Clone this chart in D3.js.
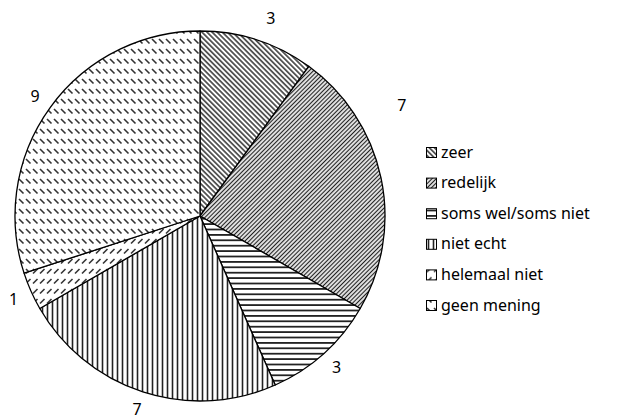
<!doctype html>
<html lang="nl">
<head>
  <meta charset="utf-8">
  <title>Pie</title>
  <style>
    body { margin: 0; background: #fff; }
    svg { display: block; }
    text {
      font-family: "Noto Sans", "Open Sans", sans-serif;
      font-size: 16px;
      fill: #000;
    }
    .slice { stroke: #000; stroke-width: 1.3; stroke-linejoin: round; }
    .swatch { stroke: #000; stroke-width: 1; }
  </style>
</head>
<body>
  <div id="chart"></div>
  <script src="https://cdn.jsdelivr.net/npm/d3@7"></script>
  <script>
  var categories = ["zeer", "redelijk", "soms wel/soms niet", "niet echt", "helemaal niet", "geen mening"];
  var values = [3, 7, 3, 7, 1, 9];
  var patternIds = ["p-down", "p-up", "p-horiz", "p-vert", "p-dash-up", "p-dash-down"];

  (function() {
    var width = 619, height = 419;
    var cx = 200, cy = 216, radius = 185;

    var svg = d3.select("#chart").append("svg")
        .attr("width", width)
        .attr("height", height);

    var defs = svg.append("defs");

    // line patterns, drawn as horizontal lines and rotated
    function linePattern(id, gap, angle, sw) {
      var p = defs.append("pattern")
          .attr("id", id)
          .attr("patternUnits", "userSpaceOnUse")
          .attr("width", 20).attr("height", gap)
          .attr("patternTransform", "rotate(" + angle + ")");
      p.append("rect").attr("width", 20).attr("height", gap).attr("fill", "#fff");
      p.append("line")
          .attr("x1", 0).attr("x2", 20)
          .attr("y1", gap / 2).attr("y2", gap / 2)
          .attr("stroke", "#222").attr("stroke-width", sw);
    }
    linePattern("p-down", 3.6, 45, 1.4);
    linePattern("p-up", 3.0, -45, 1.3);
    linePattern("p-horiz", 5.4, 0, 1.8);
    linePattern("p-vert", 5.0, 90, 1.6);

    // short dashed diagonals in rows
    function dashPattern(id, dir) {
      var w = 7, h = 10;
      var p = defs.append("pattern")
          .attr("id", id)
          .attr("patternUnits", "userSpaceOnUse")
          .attr("width", w).attr("height", h);
      p.append("rect").attr("width", w).attr("height", h).attr("fill", "#fff");
      p.append("line")
          .attr("x1", 1).attr("x2", 5.5)
          .attr("y1", dir > 0 ? 7.5 : 3).attr("y2", dir > 0 ? 3 : 7.5)
          .attr("stroke", "#333").attr("stroke-width", 1.6);
    }
    dashPattern("p-dash-up", 1);
    dashPattern("p-dash-down", -1);

    var pie = d3.pie().sort(null).value(function(d) { return d; });
    var arcs = pie(values);
    var arc = d3.arc().innerRadius(0).outerRadius(radius);

    var g = svg.append("g").attr("transform", "translate(" + cx + "," + cy + ")");

    g.selectAll("path.slice")
      .data(arcs)
      .enter().append("path")
        .attr("class", "slice")
        .attr("d", arc)
        .attr("fill", function(d, i) { return "url(#" + patternIds[i] + ")"; });

    // value labels just outside the rim
    var labelR = 204;
    g.selectAll("text.val")
      .data(arcs)
      .enter().append("text")
        .attr("class", "val")
        .attr("text-anchor", "middle")
        .attr("dy", "0.35em")
        .each(function(d, i) {
          var a = (d.startAngle + d.endAngle) / 2;
          var r = labelR;
          // keep the label clear of the legend
          if (i === 1) { a -= 0.29; r = 230; }
          if (i === 0) { a += 0.03; r = 210; }
          d3.select(this)
            .attr("x", r * Math.sin(a))
            .attr("y", Math.min(-r * Math.cos(a), 193));
        })
        .text(function(d) { return d.data; });

    // legend
    var ly = d3.scalePoint().domain(categories).range([152, 305]);
    var legend = svg.append("g");
    var item = legend.selectAll("g")
      .data(categories)
      .enter().append("g")
        .attr("transform", function(d) { return "translate(426," + ly(d) + ")"; });

    item.append("rect")
        .attr("class", "swatch")
        .attr("x", 0.5).attr("y", -4.5)
        .attr("width", 10).attr("height", 10)
        .attr("fill", function(d, i) { return "url(#" + patternIds[i] + ")"; });

    item.append("text")
        .attr("x", 15)
        .attr("dy", "0.35em")
        .text(function(d) { return d; });
  })();
  </script>
</body>
</html>
